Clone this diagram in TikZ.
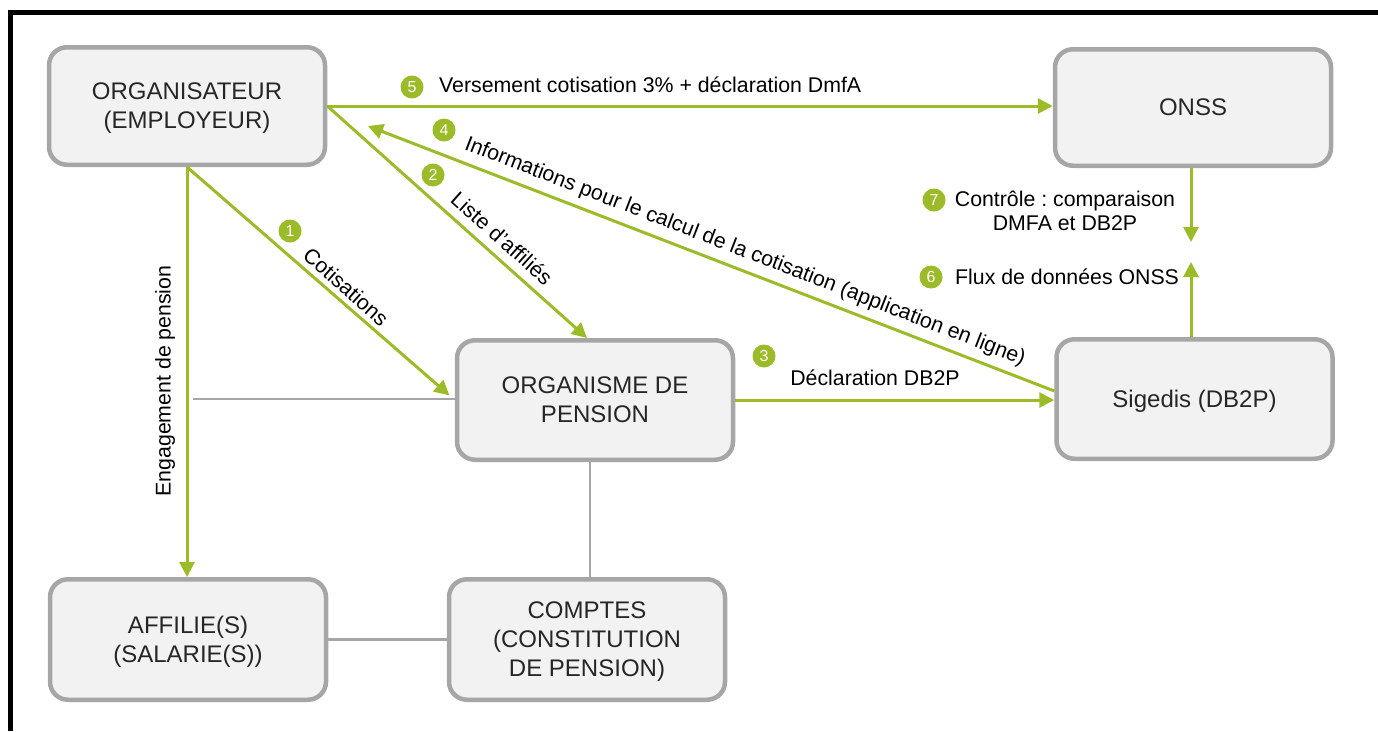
\documentclass[tikz,border=0pt]{standalone}
\usepackage{fontspec}
\setmainfont{Liberation Sans}
\usetikzlibrary{arrows.meta}
\definecolor{vert}{HTML}{9BBB29}
\definecolor{gbord}{HTML}{A6A6A6}
\definecolor{gfill}{HTML}{F2F2F2}
\definecolor{btext}{HTML}{262626}
\frenchspacing
\begin{document}
\begin{tikzpicture}[x=1pt,y=-1pt,
  box/.style={draw=gbord, line width=4.5pt, fill=gfill, rounded corners=18pt,
    minimum width=276pt, minimum height=118pt, align=center, text=btext,
    font=\fontsize{24}{29}\selectfont, inner sep=0pt, text depth=0pt},
  flow/.style={draw=vert, line width=3pt, -{Triangle[length=15pt,width=15pt]}},
  link/.style={draw=gbord, line width=2.7pt},
  num/.style={circle, fill=vert, minimum size=23pt, inner sep=0pt, text=white,
    font=\fontsize{16}{16}\selectfont},
  lbl/.style={font=\fontsize{21.3}{24}\selectfont, inner sep=0pt, align=center}]
\useasboundingbox (0,0) rectangle (1378,731);
% frame
\draw[line width=5pt, line join=miter] (10,731) -- (10,12.5) -- (1378,12.5);
% boxes
\node[box, minimum height=117.5pt] (org) at (187,106) {ORGANISATEUR\\(EMPLOYEUR)};
\node[box, minimum height=116.5pt] (onss) at (1193,107.5) {ONSS};
\node[box, minimum height=119.5pt] (orgp) at (595,400) {ORGANISME DE\\PENSION};
\node[box, minimum height=119.5pt] (sig) at (1194.5,399) {Sigedis (DB2P)};
\node[box, minimum height=120.5pt] (aff) at (188,639.5) {AFFILIE(S)\\(SALARIE(S))};
\node[box, minimum height=120.5pt] (cpt) at (587,639.5) {COMPTES\\(CONSTITUTION\\DE PENSION)};
% grey links
\coordinate (g1) at (193,399);
\draw[link] (g1) -- (g1 -| orgp.west);
\draw[link] ([xshift=-5pt]orgp.south) -- ([xshift=-5pt]orgp.south |- cpt.north);
\draw[link] (aff.east) -- (aff.east -| cpt.west);
% green flows
\coordinate (a4) at (368,126);
\coordinate (t7) at (1191,242);
\coordinate (t6) at (1191,262);
\draw[flow] (org.east) -- (org.east -| onss.west);
\draw[flow] (org.east) -- ([xshift=-8pt]orgp.north);
\draw[flow, shorten >=7pt] (org.south) -- (orgp.west);
\draw[flow] ([yshift=8pt]sig.west) -- (a4);
\draw[flow] (org.south) -- (org.south |- aff.north);
\draw[flow] (orgp.east) -- (orgp.east -| sig.west);
\draw[flow] (t7 |- onss.south) -- (t7);
\draw[flow] (t6 |- sig.north) -- (t6);
% labels
\node[num] (n5) at (412,87) {5};
\node[lbl, anchor=west] (l5) at (439,85) {Versement cotisation 3\% + déclaration DmfA};
\node[num] (n4) at (444,130) {4};
\node[lbl, rotate=-21.15] (l4) at (745,252) {Informations pour le calcul de la cotisation (application en ligne)};
\node[num] (n2) at (433,175) {2};
\node[lbl, rotate=-41.8] (l2) at (502,238) {Liste d’affiliés};
\node[num] (n1) at (290,231) {1};
\node[lbl, rotate=-41.6] (l1) at (346,287) {Cotisations};
\node[num] (n3) at (764,356) {3};
\node[lbl] (l3) at (875,378) {Déclaration DB2P};
\node[num] (n7) at (934,200) {7};
\node[lbl] (l7) at (1065,211) {Contrôle : comparaison\\DMFA et DB2P};
\node[num] (n6) at (931,277) {6};
\node[lbl, anchor=west] (l6) at (955,277) {Flux de données ONSS};
\node[lbl, rotate=90] (l0) at (165,381) {Engagement de pension};
\end{tikzpicture}
\end{document}
